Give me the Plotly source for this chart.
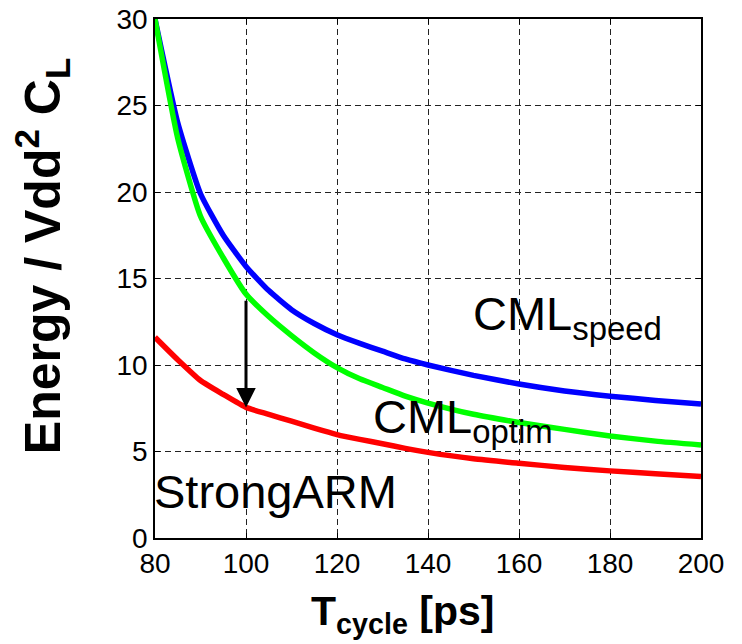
import plotly.graph_objects as go

# ---- data ----
t_cycle = [80, 85, 90, 95, 100, 105, 110, 115, 120, 125, 130, 135, 140, 150, 160, 170, 180, 190, 200]
cml_speed = [30, 24.0, 19.9, 17.5, 15.7, 14.3, 13.2, 12.4, 11.75, 11.25, 10.8, 10.35, 10.0, 9.4, 8.9, 8.5, 8.2, 7.95, 7.75]
cml_optim = [30, 23.1, 18.6, 16.2, 14.1, 12.8, 11.7, 10.7, 9.85, 9.2, 8.7, 8.2, 7.8, 7.15, 6.68, 6.28, 5.9, 5.6, 5.38]
strongarm = [11.6, 10.3, 9.1, 8.3, 7.55, 7.15, 6.75, 6.35, 5.98, 5.7, 5.45, 5.18, 4.95, 4.58, 4.32, 4.08, 3.88, 3.72, 3.55]

x_ticks = [80, 100, 120, 140, 160, 180, 200]
y_ticks = [0, 5, 10, 15, 20, 25, 30]

arrow_x = 100
arrow_from = 13.8
arrow_to = 7.55

FONT = "Liberation Sans, Arial, sans-serif"

fig = go.Figure()
for ys, col in [(cml_speed, "#0000ff"), (cml_optim, "#00ff00"), (strongarm, "#ff0000")]:
    fig.add_trace(go.Scatter(x=t_cycle, y=ys, mode="lines",
                             line=dict(color=col, width=5.5, shape="spline", smoothing=0.5),
                             showlegend=False))

axis_common = dict(
    showline=True, linecolor="black", linewidth=1.5, mirror="ticks",
    ticks="inside", ticklen=5, tickcolor="black", tickwidth=1,
    showgrid=True, gridcolor="#222222", gridwidth=1, griddash="6px,4px",
    zeroline=False, automargin=False,
    tickfont=dict(family=FONT, size=28, color="black"),
)

fig.update_xaxes(range=[80, 200], tickvals=x_ticks, ticktext=[str(v) for v in x_ticks],
                 **axis_common)
fig.update_yaxes(range=[0, 30], tickvals=y_ticks, ticktext=[str(v) for v in y_ticks],
                 **axis_common)

# axis titles
fig.add_annotation(x=0.454, y=-0.092, xref="paper", yref="paper",
                   text="<b>T<sub>cycle</sub> [ps]</b>", showarrow=False,
                   xanchor="center", yanchor="top",
                   font=dict(family=FONT, size=41, color="black"))
fig.add_annotation(x=-0.207, y=0.543, xref="paper", yref="paper",
                   text="<b>Energy / Vdd<sup>2</sup> C<sub>L</sub></b>", showarrow=False,
                   textangle=-90, xanchor="center", yanchor="middle",
                   font=dict(family=FONT, size=50, color="black"))

ann_font = dict(family=FONT, size=47, color="black")
fig.add_annotation(x=149.5, y=12.75, xref="x", yref="y", text="CML<sub>speed</sub>",
                   showarrow=False, xanchor="left", yanchor="middle", font=ann_font)
fig.add_annotation(x=127.5, y=6.85, xref="x", yref="y", text="CML<sub>optim</sub>",
                   showarrow=False, xanchor="left", yanchor="middle", font=ann_font)
fig.add_annotation(x=80, y=2.7, xref="x", yref="y", text="StrongARM", xshift=-3,
                   showarrow=False, xanchor="left", yanchor="middle", font=ann_font)

fig.add_annotation(x=arrow_x, y=arrow_to, ax=arrow_x, ay=arrow_from,
                   xref="x", yref="y", axref="x", ayref="y",
                   showarrow=True, arrowhead=2, arrowsize=1.3, arrowwidth=3,
                   arrowcolor="black", text="")

fig.update_layout(
    width=742, height=644,
    margin=dict(l=155, r=41, t=19, b=106),
    paper_bgcolor="white", plot_bgcolor="white",
    font=dict(family=FONT, color="black"),
)

fig.write_html("out.html")
